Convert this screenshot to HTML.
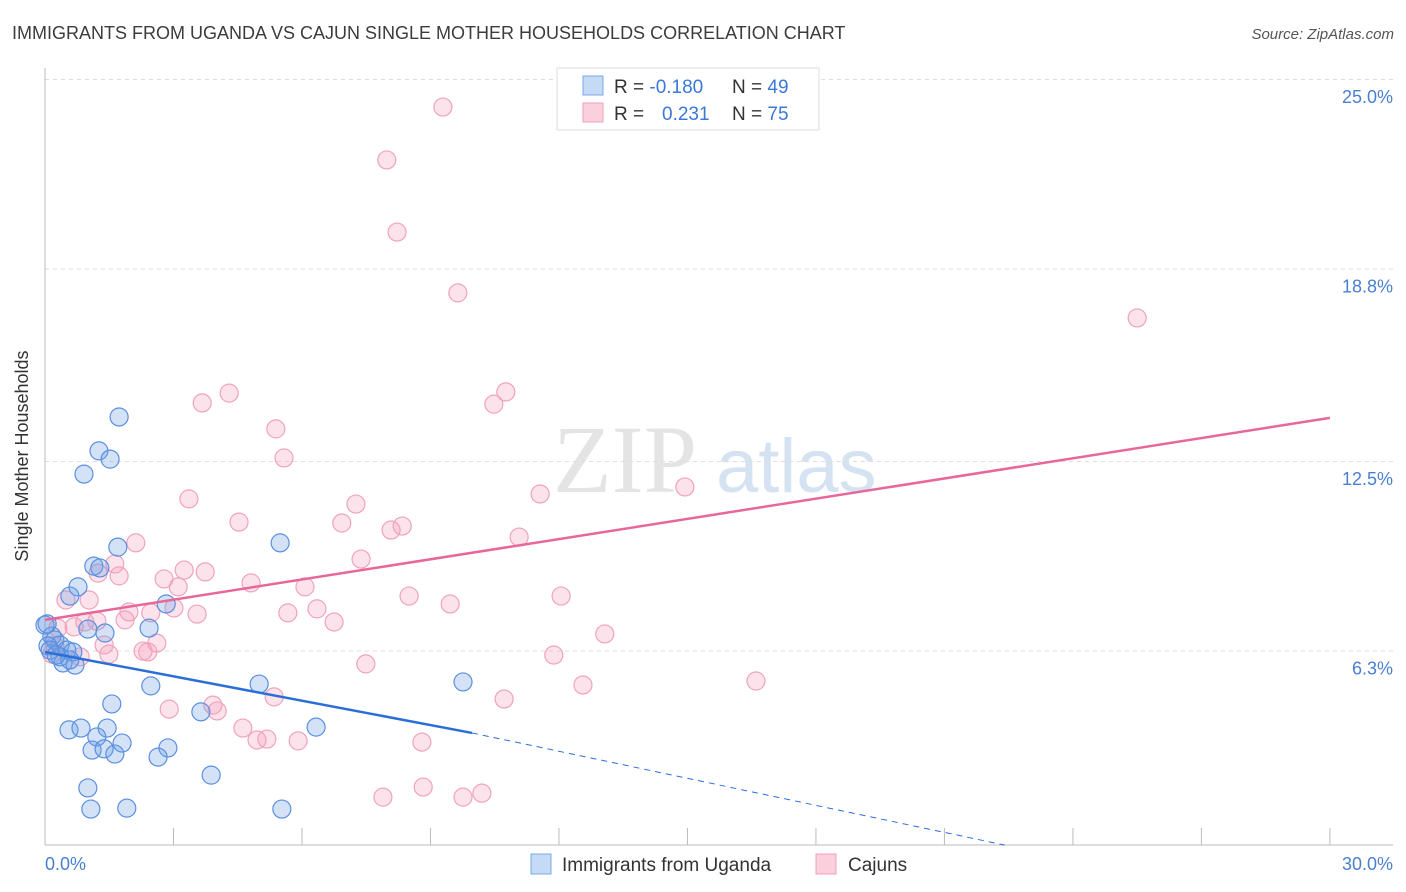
<!DOCTYPE html>
<html><head><meta charset="utf-8"><style>
body{margin:0;background:#fff;font-family:"Liberation Sans",sans-serif;}
svg{display:block}
</style></head><body>
<svg id="chart" width="1406" height="892">
<text x="12" y="39" font-size="18" fill="#3c3c3c">IMMIGRANTS FROM UGANDA VS CAJUN SINGLE MOTHER HOUSEHOLDS CORRELATION CHART</text>
<text x="1394" y="39" font-size="15" fill="#555" font-style="italic" text-anchor="end">Source: ZipAtlas.com</text>
<g>
<text x="553" y="492" font-size="96" font-family="Liberation Serif,serif" fill="#e4e4e4">ZIP</text>
<text x="716" y="492" font-size="76" fill="#d4e2f2">atlas</text>
</g>
<g id="grid"></g>
<line x1="45" y1="68" x2="45" y2="845" stroke="#bbb"/>
<line x1="45" y1="845" x2="1393" y2="845" stroke="#bbb"/>
<g id="xticks"></g>
<text x="28" y="456" font-size="18" fill="#333" text-anchor="middle" transform="rotate(-90 28 456)">Single Mother Households</text>
<text x="45" y="870" font-size="18" fill="#4a7fd0">0.0%</text>
<text x="1393" y="870" font-size="18" fill="#4a7fd0" text-anchor="end">30.0%</text>
<g id="pink"></g><g id="blue"></g><g id="lines"></g>
<g>
<rect x="557" y="68" width="262" height="62" fill="#fff" stroke="#ddd"/>
<rect x="583" y="76" width="20" height="19" fill="#c5daf5" stroke="#7aa8e8"/>
<rect x="583" y="103" width="20" height="19" fill="#fad0dc" stroke="#f0a0b8"/>
<text x="614" y="93" font-size="19" fill="#333">R = <tspan fill="#3b78d8">-0.180</tspan></text>
<text x="732" y="93" font-size="19" fill="#333">N = <tspan fill="#3b78d8">49</tspan></text>
<text x="614" y="120" font-size="19" fill="#333">R = <tspan fill="#3b78d8" x="662">0.231</tspan></text>
<text x="732" y="120" font-size="19" fill="#333">N = <tspan fill="#3b78d8">75</tspan></text>
</g>
<g>
<rect x="531" y="854" width="20" height="20" fill="#c5daf5" stroke="#7aa8e8"/>
<text x="562" y="871" font-size="19" fill="#333">Immigrants from Uganda</text>
<rect x="816" y="854" width="20" height="20" fill="#fad0dc" stroke="#f0a0b8"/>
<text x="848" y="871" font-size="19" fill="#333">Cajuns</text>
</g>
</svg>
<script>
const yTicks=[25.0,18.8,12.5,6.3];
const yTickLabels=["25.0%","18.8%","12.5%","6.3%"];
const xTickVals=[3,6,9,12,15,18,21,24,27,30];
const blueX=[1.73,1.26,1.52,0.91,1.70,5.49,1.14,1.28,0.77,0.58,2.83,2.43,1.00,1.40,0.05,0.16,0.23,0.35,0.07,0.51,0.65,0.35,0.42,0.70,0.58,2.47,5.00,9.76,1.56,3.64,0.56,0.84,1.45,6.33,1.21,1.80,1.10,1.38,1.63,2.87,2.64,3.88,1.00,1.07,1.91,5.53,0.0,0.12,0.26];
const blueY=[14.53,13.42,13.15,12.66,10.27,10.41,9.65,9.59,8.97,8.67,8.41,7.62,7.59,7.46,7.76,7.36,7.23,7.07,7.04,6.90,6.84,6.68,6.48,6.41,6.58,5.73,5.79,5.86,5.14,4.88,4.29,4.35,4.35,4.38,4.06,3.86,3.63,3.67,3.50,3.70,3.40,2.81,2.39,1.70,1.73,1.70,7.72,6.90,6.74];
const pinkX=[9.29,7.98,8.22,9.64,25.50,10.76,10.48,4.30,3.67,5.39,5.58,3.36,14.94,11.56,7.26,4.53,6.93,8.34,8.08,11.07,2.12,7.38,1.24,1.63,1.73,2.78,3.25,3.74,4.81,6.07,8.50,3.11,9.46,12.05,0.49,1.03,1.96,2.47,3.01,3.55,5.67,6.35,1.87,6.75,0.93,1.21,13.07,0.30,0.68,2.61,1.38,2.29,2.40,0.16,0.82,1.49,11.88,7.49,12.56,16.60,5.35,10.72,2.90,3.92,4.02,4.62,4.95,5.18,5.91,8.80,7.89,8.83,9.76,10.20,0.23];
const pinkY=[24.67,22.94,20.58,18.59,17.77,15.35,14.95,15.31,14.99,14.14,13.19,11.85,12.24,12.01,11.68,11.09,11.06,10.96,10.83,10.60,10.41,9.88,9.42,9.72,9.33,9.23,9.52,9.46,9.10,8.97,8.67,8.97,8.41,8.67,8.54,8.54,8.15,8.12,8.28,8.08,8.12,8.25,7.89,7.82,7.82,7.85,7.43,7.62,7.66,7.13,7.07,6.87,6.84,6.77,6.68,6.77,6.74,6.45,5.76,5.89,5.37,5.30,4.97,5.10,4.91,4.35,3.96,3.99,3.93,3.89,2.09,2.42,2.09,2.22,7.04];
const pinkTrend=[7.89,14.50];
const blueTrend=[6.84,4.19];
const blueTrendEndX=9.97;
const blueDashEnd=[22.41,0.52];
const NS="http://www.w3.org/2000/svg";
const xs=v=>45+v*42.83;
const ys=v=>97+(25-v)*30.56;
function mk(tag,attrs,parent){const e=document.createElementNS(NS,tag);for(const k in attrs)e.setAttribute(k,attrs[k]);parent.appendChild(e);return e;}
const grid=document.getElementById('grid');
yTicks.forEach((t,i)=>{
 const l=mk('line',{x1:45,x2:1393,y1:ys(t)-17.5,y2:ys(t)-17.5,stroke:'#ddd','stroke-dasharray':'4,4'},grid);
 
 
 const tx=mk('text',{x:1393,y:ys(t)+6,'font-size':18,fill:'#4a7fd0','text-anchor':'end'},grid);
 tx.textContent=yTickLabels[i];
 
 
});
const xt=document.getElementById('xticks');
xTickVals.forEach(v=>{
 const l=mk('line',{x1:xs(v),x2:xs(v),y1:828,y2:845,stroke:'#bbb'},xt);
 
 
});
const pg=document.getElementById('pink');
pinkX.forEach((x,i)=>{
 const c=mk('circle',{cx:xs(x),cy:ys(pinkY[i]),r:9,fill:'rgba(244,160,188,0.3)',stroke:'#f0a3bc','stroke-width':1.2},pg);
 
 
});
const bg=document.getElementById('blue');
blueX.forEach((x,i)=>{
 const c=mk('circle',{cx:xs(x),cy:ys(blueY[i]),r:9,fill:'rgba(110,160,230,0.3)',stroke:'#5b8fe0','stroke-width':1.2},bg);
 
 
});
const lg=document.getElementById('lines');
const p=mk('line',{x1:xs(0),y1:ys(pinkTrend[0]),x2:xs(30),y2:ys(pinkTrend[1]),stroke:'#e8679a','stroke-width':2.5},lg);


const b=mk('line',{x1:xs(0),y1:ys(blueTrend[0]),x2:xs(blueTrendEndX),y2:ys(blueTrend[1]),stroke:'#2a6fd8','stroke-width':2.5},lg);


const d=mk('line',{x1:xs(blueTrendEndX),y1:ys(blueTrend[1]),x2:xs(blueDashEnd[0]),y2:ys(blueDashEnd[1]),stroke:'#2a6fd8','stroke-width':1,'stroke-dasharray':'6,5'},lg);


</script>
</body></html>
